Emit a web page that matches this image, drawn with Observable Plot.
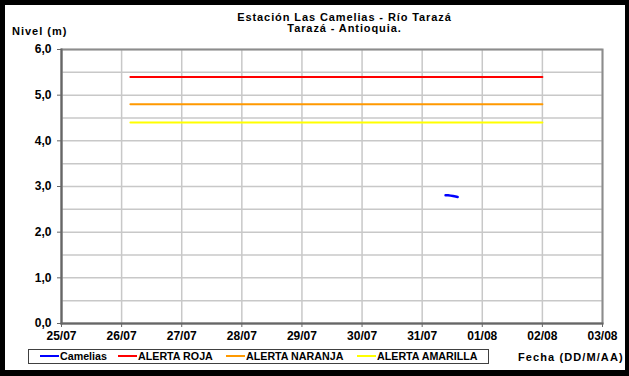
<!DOCTYPE html>
<html>
<head>
<meta charset="utf-8">
<script src="https://cdn.jsdelivr.net/npm/d3@7"></script>
<script src="https://cdn.jsdelivr.net/npm/@observablehq/plot@0.6"></script>
<style>
  body { margin: 0; background: #fff; }
  #page { position: relative; width: 629px; height: 376px; overflow: hidden; font-family: Arial, "Liberation Sans", sans-serif; font-weight: bold; color: #000; }
  #border { position: absolute; left: 0; top: 0; width: 629px; height: 376px; box-sizing: border-box; border-style: solid; border-color: #000; border-width: 5px 4px 6px 5px; pointer-events: none; }
  #title { position: absolute; top: 12px; left: 30px; width: 629px; text-align: center; font-size: 11px; letter-spacing: 0.9px; line-height: 11px; }
  #ylab { position: absolute; top: 25px; left: 12px; font-size: 11px; letter-spacing: 1px; }
  #chart { position: absolute; top: 0; left: 0; }
  #legend { position: absolute; left: 28px; top: 349px; width: 459px; height: 13px; border: 1px solid #404040; font-size: 10.7px; line-height: 13px; white-space: nowrap; }
  #legend span.it { position: absolute; top: 0; }
  #legend i { display: inline-block; width: 19px; height: 2px; vertical-align: middle; margin-right: 1px; position: relative; top: -1px; }
  #xlab { position: absolute; left: 518px; top: 351px; font-size: 11px; letter-spacing: 1.1px; }
</style>
</head>
<body>
<div id="page">
  <div id="title"></div>
  <div id="ylab"></div>
  <div id="chart"></div>
  <div id="legend"></div>
  <div id="xlab"></div>
  <div id="border"></div>
</div>
<script>
const titleLines = ["Estación Las Camelias - Río Tarazá", "Tarazá - Antioquia."];
const yLabel = "Nivel (m)";
const xLabel = "Fecha (DD/M/AA)";

const xTicks = ["2011-07-25","2011-07-26","2011-07-27","2011-07-28","2011-07-29","2011-07-30","2011-07-31","2011-08-01","2011-08-02","2011-08-03"];
const yTicks = [0, 1, 2, 3, 4, 5, 6];
const yGrid = [0.5, 1, 1.5, 2, 2.5, 3, 3.5, 4, 4.5, 5, 5.5, 6];

const camTimes = ["2011-07-31T09:20","2011-07-31T10:20","2011-07-31T11:20","2011-07-31T12:20","2011-07-31T13:20","2011-07-31T14:10"];
const camLevels = [2.81, 2.81, 2.80, 2.79, 2.78, 2.77];

const alertNames = ["ALERTA ROJA", "ALERTA NARANJA", "ALERTA AMARILLA"];
const alertLevels = [5.4, 4.8, 4.4];
const alertColors = ["#ff0000", "#ff9900", "#ffff00"];
const alertStart = "2011-07-26T03:30";
const alertEnd = "2011-08-02T00:00";

const seriesNames = ["Camelias", ...alertNames];
const seriesColors = ["#0000ff", ...alertColors];

const parse = s => new Date(s + (s.length === 10 ? "T00:00Z" : "Z"));
const xTickDates = xTicks.map(parse);

const cam = camTimes.map((t, i) => ({date: parse(t), level: camLevels[i]}));
const alerts = [];
alertNames.forEach((n, i) => {
  alerts.push({name: n, date: parse(alertStart), level: alertLevels[i]});
  alerts.push({name: n, date: parse(alertEnd), level: alertLevels[i]});
});

const chart = Plot.plot({
  width: 629,
  height: 345,
  marginLeft: 61,
  marginRight: 27,
  marginTop: 49,
  marginBottom: 22,
  style: {fontFamily: "Arial, 'Liberation Sans', sans-serif", fontSize: "12px", fontWeight: "bold", color: "#000", background: "transparent"},
  x: {type: "utc", domain: [xTickDates[0], xTickDates[xTickDates.length - 1]]},
  y: {domain: [0, 6]},
  color: {domain: seriesNames, range: seriesColors},
  marks: [
    Plot.ruleX(xTickDates, {stroke: "#c8c8c8", strokeWidth: 1.5}),
    Plot.ruleY(yGrid, {stroke: "#c8c8c8", strokeWidth: 1.5}),
    Plot.frame({stroke: "#8c8c8c", strokeWidth: 2}),
    Plot.frame({anchor: "left", stroke: "#666", strokeWidth: 2}),
    Plot.frame({anchor: "bottom", stroke: "#666", strokeWidth: 2}),
    Plot.line(alerts, {x: "date", y: "level", z: "name", stroke: "name", strokeWidth: 2}),
    Plot.line(cam, {x: "date", y: "level", stroke: () => "Camelias", strokeWidth: 2.5}),
    Plot.axisY({ticks: yTicks, tickFormat: d => d.toFixed(1).replace(".", ","), tickSize: 4, tickPadding: 6, label: null, stroke: "#666", fill: "#000"}),
    Plot.axisX({ticks: xTickDates, tickFormat: d3.utcFormat("%d/%m"), tickSize: 4, tickPadding: 4, label: null, stroke: "#666", fill: "#000"})
  ]
});
document.getElementById("chart").appendChild(chart);

document.getElementById("title").innerHTML = titleLines.join("<br>");
document.getElementById("ylab").textContent = yLabel;
document.getElementById("xlab").textContent = xLabel;

const legendX = [11, 89, 197, 328];
const leg = document.getElementById("legend");
seriesNames.forEach((n, i) => {
  const s = document.createElement("span");
  s.className = "it";
  s.style.left = legendX[i] + "px";
  const sw = document.createElement("i");
  sw.style.background = seriesColors[i];
  s.appendChild(sw);
  s.appendChild(document.createTextNode(n));
  leg.appendChild(s);
});
</script>
</body>
</html>
